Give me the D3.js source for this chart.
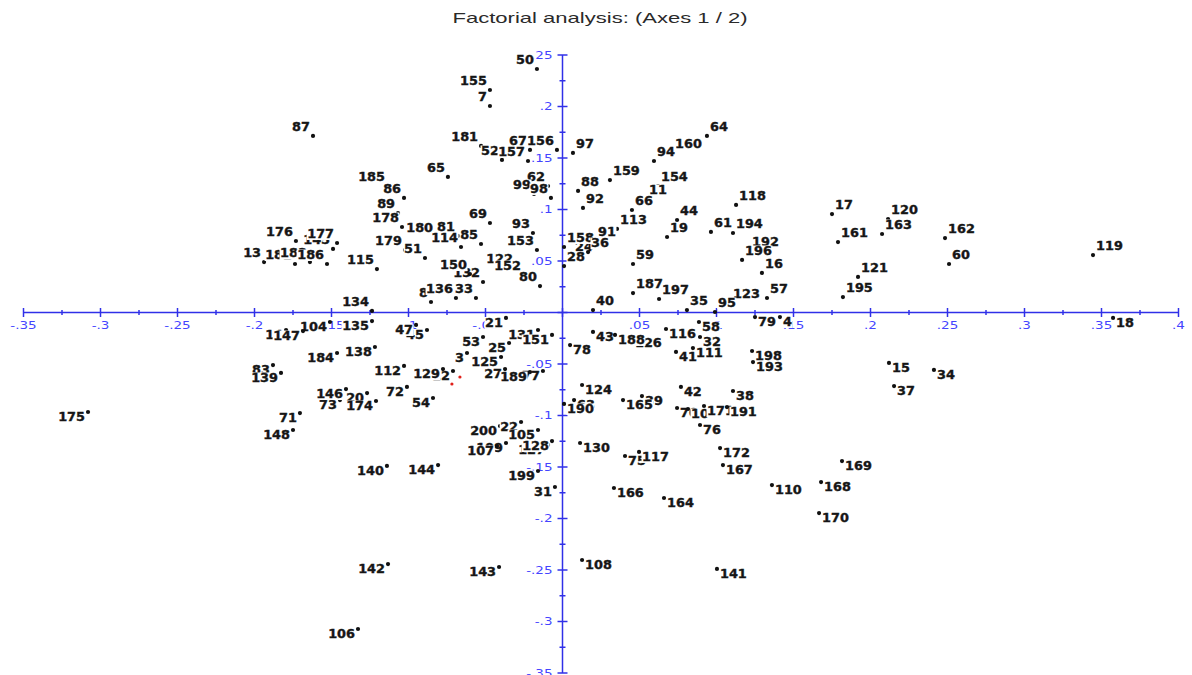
<!DOCTYPE html>
<html>
<head>
<meta charset="utf-8">
<script src="https://cdn.jsdelivr.net/npm/d3@7"></script>
<style>
  body { margin: 0; background: #fff; }
  svg { display: block; }
</style>
</head>
<body>
<svg id="chart" width="1192" height="675"></svg>
<script>
// Observation labels and their coordinates on factors F1 (horizontal) and F2 (vertical)
const obsLabels = ["50","155","7","87","181","52","67","157","156","97","65","185","86","89","178","180","81","114","85","69","93","153","62","99","98","176","145","177","13","182","183","186","179","51","115","132","150","122","152","80","24","28","158","8","136","33","134","135","104","14","147","45","47","21","53","25","131","151","3","125","12","129","27","77","189","112","184","138","72","54","73","146","20","174","83","139","175","71","148","200","22","105","109","107","127","128","140","144","199","31","142","143","106","63","190","78","43","126","188","116","35","58","32","41","111","40","187","197","123","95","57","79","4","59","192","196","16","121","195","60","119","18","15","34","37","198","193","124","39","165","42","38","70","10","171","191","76","130","75","117","172","167","169","166","164","110","168","170","108","141","64","160","94","159","154","11","88","92","66","113","91","36","44","19","118","61","194","17","161","120","163","162"];

const f1 = [-0.0166,-0.0471,-0.0471,-0.1620,-0.0529,-0.0393,-0.0211,-0.0224,-0.0036,0.0068,-0.0744,-0.1133,-0.1029,-0.1068,-0.1042,-0.0821,-0.0679,-0.0659,-0.0529,-0.0471,-0.0192,-0.0166,-0.0094,-0.0185,-0.0075,-0.1731,-0.1490,-0.1464,-0.1938,-0.1737,-0.1640,-0.1529,-0.1023,-0.0893,-0.1205,-0.0516,-0.0601,-0.0302,-0.0250,-0.0146,0.0062,0.0010,0.0010,-0.0854,-0.0692,-0.0562,-0.1237,-0.1237,-0.1510,-0.1795,-0.1685,-0.0880,-0.0951,-0.0367,-0.0516,-0.0347,-0.0159,-0.0068,-0.0620,-0.0399,-0.0711,-0.0776,-0.0373,-0.0127,-0.0211,-0.1029,-0.1464,-0.1218,-0.1010,-0.0841,-0.1445,-0.1406,-0.1269,-0.1211,-0.1880,-0.1828,-0.3081,-0.1705,-0.1750,-0.0406,-0.0269,-0.0159,-0.0367,-0.0425,-0.0094,-0.0068,-0.1140,-0.0808,-0.0159,-0.0049,-0.1133,-0.0412,-0.1328,0.0075,0.0010,0.0049,0.0198,0.0451,0.0341,0.0672,0.0808,0.0886,0.0893,0.0737,0.0847,0.0198,0.0458,0.0627,0.1088,0.0990,0.1328,0.1250,0.1412,0.0458,0.1211,0.1166,0.1295,0.1919,0.1821,0.2510,0.3445,0.3575,0.2120,0.2412,0.2153,0.1231,0.1237,0.0127,0.0516,0.0393,0.0769,0.1107,0.0744,0.0815,0.0919,0.1068,0.0893,0.0114,0.0406,0.0497,0.1023,0.1042,0.1815,0.0334,0.0659,0.1360,0.1679,0.1666,0.0127,0.1003,0.0938,0.0711,0.0594,0.0308,0.0620,0.0542,0.0101,0.0133,0.0451,0.0354,0.0211,0.0166,0.0744,0.0679,0.1127,0.0964,0.1107,0.1750,0.1789,0.2114,0.2075,0.2484];

const f2 = [0.2364,0.2160,0.2005,0.1714,0.1617,0.1481,0.1578,0.1471,0.1578,0.1549,0.1316,0.1228,0.1112,0.0966,0.0830,0.0733,0.0743,0.0636,0.0665,0.0869,0.0772,0.0607,0.1228,0.1151,0.1112,0.0694,0.0617,0.0675,0.0490,0.0471,0.0490,0.0471,0.0607,0.0529,0.0422,0.0296,0.0374,0.0432,0.0364,0.0257,0.0549,0.0451,0.0636,0.0102,0.0141,0.0141,0.0015,-0.0083,-0.0092,-0.0170,-0.0180,-0.0170,-0.0121,-0.0053,-0.0238,-0.0296,-0.0170,-0.0218,-0.0393,-0.0432,-0.0568,-0.0549,-0.0549,-0.0568,-0.0578,-0.0519,-0.0393,-0.0335,-0.0723,-0.0830,-0.0850,-0.0743,-0.0782,-0.0859,-0.0510,-0.0587,-0.0966,-0.0976,-0.1141,-0.1102,-0.1063,-0.1141,-0.1267,-0.1296,-0.1286,-0.1248,-0.1490,-0.1481,-0.1539,-0.1694,-0.2442,-0.2471,-0.3073,-0.0850,-0.0888,-0.0316,-0.0189,-0.0248,-0.0218,-0.0160,0.0024,-0.0092,-0.0238,-0.0383,-0.0345,0.0024,0.0189,0.0131,0.0092,0.0005,0.0141,-0.0044,-0.0044,0.0471,0.0597,0.0510,0.0384,0.0345,0.0150,0.0471,0.0558,-0.0053,-0.0490,-0.0558,-0.0714,-0.0374,-0.0481,-0.0704,-0.0811,-0.0850,-0.0723,-0.0762,-0.0927,-0.0937,-0.0908,-0.0918,-0.1092,-0.1267,-0.1393,-0.1354,-0.1316,-0.1481,-0.1442,-0.1704,-0.1801,-0.1675,-0.1646,-0.1947,-0.2403,-0.2490,0.1714,0.1549,0.1471,0.1286,0.1228,0.1102,0.1180,0.1015,0.0995,0.0811,0.0694,0.0587,0.0898,0.0733,0.1044,0.0782,0.0772,0.0956,0.0684,0.0908,0.0762,0.0723];

// Supplementary observations (drawn in red, unlabeled)
const supF1 = [-0.0718, -0.0666];
const supF2 = [-0.0694, -0.0626];

// Axis ticks
const xTicks = [-0.35,-0.3,-0.25,-0.2,-0.15,-0.1,-0.05,0,0.05,0.1,0.15,0.2,0.25,0.3,0.35,0.4];
const yTicks = [-0.35,-0.3,-0.25,-0.2,-0.15,-0.1,-0.05,0,0.05,0.1,0.15,0.2,0.25];

const titleText = "Factorial analysis: (Axes 1 / 2)";

const svg = d3.select("#chart");
const x = d3.scaleLinear().domain([-0.35, 0.4]).range([23.5, 1178.5]);
const y = d3.scaleLinear().domain([-0.35, 0.25]).range([673, 55]);

const axisColor = "#3030e8";
const tickTextColor = "#4444ff";
const fmt = v => (+v.toFixed(3)).toString().replace(/^(-?)0\./, "$1.");

// Title
svg.append("text")
  .attr("x", 600).attr("y", 23)
  .attr("text-anchor", "middle")
  .attr("font-family", "Liberation Sans, Arial, sans-serif")
  .attr("font-size", 15)
  .attr("fill", "#2a2a2a")
  .attr("textLength", 295)
  .attr("lengthAdjust", "spacingAndGlyphs")
  .text(titleText);

const axes = svg.append("g");
const x0 = x(0), y0 = y(0);

// Horizontal axis
axes.append("line")
  .attr("x1", x(xTicks[0])).attr("x2", x(xTicks[xTicks.length - 1]))
  .attr("y1", y0).attr("y2", y0)
  .attr("stroke", axisColor).attr("stroke-width", 1.5);
const xMinor = xTicks.slice(0, -1).map(v => v + 0.025);
axes.selectAll(".xmaj").data(xTicks).join("line")
  .attr("x1", d => x(d)).attr("x2", d => x(d))
  .attr("y1", y0 - 4.5).attr("y2", y0 + 4.5)
  .attr("stroke", axisColor).attr("stroke-width", 1.5);
axes.selectAll(".xmin").data(xMinor).join("line")
  .attr("x1", d => x(d)).attr("x2", d => x(d))
  .attr("y1", y0 - 2.5).attr("y2", y0 + 2.5)
  .attr("stroke", axisColor).attr("stroke-width", 1.5);
axes.selectAll(".xlab").data(xTicks.filter(d => d !== 0)).join("text")
  .attr("transform", d => `translate(${x(d)},${y0 + 16}) scale(1.35,1)`)
  .attr("text-anchor", "middle")
  .attr("font-family", "DejaVu Sans, sans-serif")
  .attr("font-size", 10)
  .attr("fill", tickTextColor)
  .text(fmt);

// Vertical axis
axes.append("line")
  .attr("x1", x0).attr("x2", x0)
  .attr("y1", y(yTicks[0])).attr("y2", y(yTicks[yTicks.length - 1]))
  .attr("stroke", axisColor).attr("stroke-width", 1.5);
const yMinor = yTicks.slice(0, -1).map(v => v + 0.025);
axes.selectAll(".ymaj").data(yTicks).join("line")
  .attr("x1", x0 - 5).attr("x2", x0 + 5)
  .attr("y1", d => y(d)).attr("y2", d => y(d))
  .attr("stroke", axisColor).attr("stroke-width", 1.5);
axes.selectAll(".ymin").data(yMinor).join("line")
  .attr("x1", x0 - 3).attr("x2", x0 + 3)
  .attr("y1", d => y(d)).attr("y2", d => y(d))
  .attr("stroke", axisColor).attr("stroke-width", 1.5);
axes.selectAll(".ylab").data(yTicks.filter(d => d !== 0)).join("text")
  .attr("transform", d => `translate(${x0 - 10},${y(d) + 3.8}) scale(1.35,1)`)
  .attr("text-anchor", "end")
  .attr("font-family", "DejaVu Sans, sans-serif")
  .attr("font-size", 10)
  .attr("fill", tickTextColor)
  .text(fmt);

// Observations: dot plus a label pushed away from the origin, on a white box
const obs = obsLabels.map((lab, i) => ({ lab, f1: f1[i], f2: f2[i] }));
const pts = svg.append("g");
obs.forEach(d => {
  const px = x(d.f1), py = y(d.f2);
  const right = d.f1 >= 0, up = d.f2 >= 0;
  pts.append("circle")
    .attr("cx", px).attr("cy", py).attr("r", 2.1)
    .attr("fill", "#111");
  const g = pts.append("g")
    .attr("transform", `translate(${px + (right ? 3 : -3)},${py + (up ? -5 : 9)}) scale(1.12,1)`);
  const rect = g.append("rect").attr("fill", "#fff");
  const t = g.append("text")
    .attr("text-anchor", right ? "start" : "end")
    .attr("font-family", "DejaVu Sans, sans-serif")
    .attr("font-weight", "bold")
    .attr("font-size", 11.5)
    .attr("fill", "#161616")
    .attr("stroke", "#161616")
    .attr("stroke-width", 0.35)
    .text(d.lab);
  const bb = t.node().getBBox();
  rect.attr("x", bb.x - 0.5).attr("y", -9.5)
    .attr("width", bb.width + 1).attr("height", 11.5);
});

// Supplementary points
svg.append("g").selectAll("circle")
  .data(supF1.map((v, i) => ({ f1: v, f2: supF2[i] })))
  .join("circle")
  .attr("cx", d => x(d.f1)).attr("cy", d => y(d.f2)).attr("r", 1.6)
  .attr("fill", "#e0201a");
</script>
</body>
</html>
